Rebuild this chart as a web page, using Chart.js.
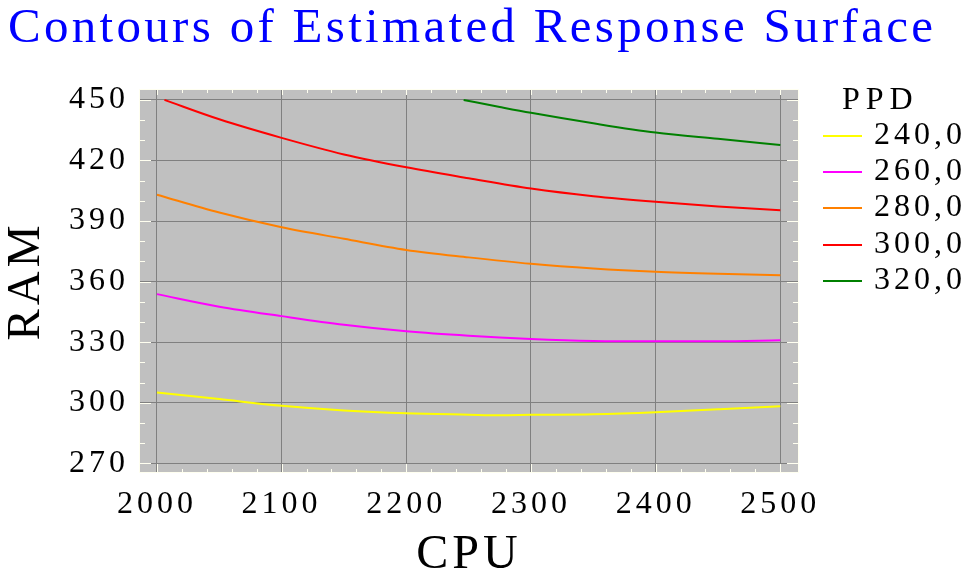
<!DOCTYPE html>
<html>
<head>
<meta charset="utf-8">
<title>Contours of Estimated Response Surface</title>
<script src="https://cdn.jsdelivr.net/npm/chart.js@4/dist/chart.umd.min.js"></script>
<style>
    html, body { margin: 0; padding: 0; background: #ffffff; }
    #wrap { width: 972px; height: 579px; position: relative; }
</style>
</head>
<body>
<div id="wrap"><canvas id="contourChart"></canvas></div>
<script>
// Chart text
const chartTitle = 'Contours of Estimated Response Surface';
const legendTitle = 'PPD';
const xTitle = 'CPU';
const yTitle = 'RAM';

// Axis ticks
const xTicks = [2000, 2100, 2200, 2300, 2400, 2500];
const yTicks = [270, 300, 330, 360, 390, 420, 450];

// Contour levels (legend labels)
const levels = ['240,0', '260,0', '280,0', '300,0', '320,0'];

// Contour lines (CPU -> RAM)
const cpu240 = [2000, 2050, 2100, 2150, 2200, 2250, 2275, 2300, 2350, 2400, 2450, 2500];
const ram240 = [305.1, 301.8, 298.5, 296.2, 294.8, 294.1, 293.8, 294.0, 294.3, 295.3, 296.8, 298.3];

const cpu260 = [2000, 2050, 2100, 2150, 2200, 2250, 2300, 2350, 2400, 2450, 2500];
const ram260 = [353.8, 347.6, 342.9, 338.6, 335.4, 333.2, 331.6, 330.6, 330.4, 330.4, 331.0];

const cpu280 = [2000, 2050, 2100, 2150, 2200, 2250, 2300, 2350, 2400, 2450, 2500];
const ram280 = [403.0, 394.2, 386.9, 381.2, 375.7, 372.0, 368.8, 366.5, 364.9, 363.9, 363.2];

const cpu300 = [2006, 2050, 2100, 2150, 2200, 2250, 2300, 2350, 2400, 2450, 2500];
const ram300 = [450.0, 440.4, 431.2, 423.0, 416.6, 411.2, 406.1, 402.3, 399.5, 397.2, 395.3];

const cpu320 = [2246, 2275, 2300, 2350, 2400, 2450, 2500];
const ram320 = [450.0, 446.5, 443.6, 438.4, 433.8, 430.7, 427.7];

const colors = ['#ffff00', '#ff00ff', '#ff8000', '#ff0000', '#008000'];

const serif = "'Liberation Serif', 'Times New Roman', serif";

function toPoints(xs, ys) {
    return xs.map((v, i) => ({ x: v, y: ys[i] }));
}

const series = [
    toPoints(cpu240, ram240),
    toPoints(cpu260, ram260),
    toPoints(cpu280, ram280),
    toPoints(cpu300, ram300),
    toPoints(cpu320, ram320)
];

// Gray plot area, edge ticks, title and legend
const extrasPlugin = {
    id: 'extras',
    beforeDraw(chart) {
        const { ctx, chartArea: a } = chart;
        ctx.save();
        ctx.fillStyle = '#c0c0c0';
        ctx.fillRect(a.left, a.top, a.right - a.left, a.bottom - a.top);
        ctx.restore();
        ctx.letterSpacing = '4px';
    },
    afterDatasetsDraw(chart) {
        const { ctx, chartArea: a, scales } = chart;
        ctx.save();
        ctx.strokeStyle = '#fffff0';
        ctx.lineWidth = 1;
        ctx.beginPath();
        for (let v = yTicks[0]; v <= yTicks[yTicks.length - 1]; v += 10) {
            const py = Math.round(scales.y.getPixelForValue(v)) + 0.5;
            const len = yTicks.includes(v) ? 12 : 6;
            ctx.moveTo(a.left, py); ctx.lineTo(a.left + len, py);
            ctx.moveTo(a.right, py); ctx.lineTo(a.right - len, py);
        }
        for (let v = xTicks[0]; v <= xTicks[xTicks.length - 1]; v += 20) {
            const px = Math.round(scales.x.getPixelForValue(v)) + 0.5;
            const major = xTicks.includes(v);
            ctx.moveTo(px, a.bottom); ctx.lineTo(px, a.bottom - (major ? 9 : 4));
            ctx.moveTo(px, a.top); ctx.lineTo(px, a.top + (major ? 6 : 4));
        }
        ctx.stroke();
        ctx.strokeRect(a.left + 0.5, a.top + 0.5, a.right - a.left - 1, a.bottom - a.top - 1);
        ctx.restore();
    },
    afterDraw(chart) {
        const { ctx, chartArea: a } = chart;
        ctx.save();
        // title
        ctx.letterSpacing = '3.3px';
        ctx.font = '49px ' + serif;
        ctx.fillStyle = '#0000ff';
        ctx.textAlign = 'left';
        ctx.textBaseline = 'alphabetic';
        ctx.fillText(chartTitle, 8, 42);

        // legend
        ctx.fillStyle = '#000000';
        ctx.font = '32px ' + serif;
        ctx.letterSpacing = '6px';
        ctx.fillText(legendTitle, a.right + 43, a.top + 20);
        ctx.letterSpacing = '4px';
        ctx.textBaseline = 'middle';
        chart.data.datasets.forEach((ds, i) => {
            const ry = Math.round(a.top + 46.7 + i * 36.3);
            ctx.strokeStyle = ds.borderColor;
            ctx.lineWidth = 2;
            ctx.beginPath();
            ctx.moveTo(a.right + 24, ry);
            ctx.lineTo(a.right + 63, ry);
            ctx.stroke();
            ctx.fillText(ds.label, a.right + 75, ry);
        });
        ctx.restore();
    }
};

const ctx = document.getElementById('contourChart').getContext('2d');

const chart = new Chart(ctx, {
    type: 'line',
    data: {
        datasets: levels.map((label, i) => ({
            label: label,
            data: series[i],
            borderColor: colors[i],
            backgroundColor: colors[i],
            borderWidth: 2,
            pointRadius: 0,
            cubicInterpolationMode: 'monotone',
            fill: false
        }))
    },
    options: {
        responsive: true,
        maintainAspectRatio: false,
        animation: false,
        layout: {
            padding: { left: 0, right: 173, top: 89, bottom: 0 }
        },
        plugins: {
            legend: { display: false },
            title: { display: false },
            tooltip: { enabled: false }
        },
        scales: {
            x: {
                type: 'linear',
                min: 1985.6,
                max: 2515,
                afterBuildTicks: (scale) => {
                    scale.ticks = xTicks.map(v => ({ value: v }));
                },
                afterFit: (scale) => {
                    scale.height = 106;
                },
                ticks: {
                    autoSkip: false,
                    maxRotation: 0,
                    minRotation: 0,
                    padding: 12,
                    color: '#000000',
                    font: { family: serif, size: 32 },
                    callback: (v) => String(v)
                },
                grid: {
                    color: '#808080',
                    lineWidth: 1,
                    drawTicks: false
                },
                border: { display: false },
                title: {
                    display: true,
                    text: xTitle,
                    color: '#000000',
                    font: { family: serif, size: 48, lineHeight: 1 },
                    padding: { top: 0, bottom: 0 }
                }
            },
            y: {
                type: 'linear',
                min: 265.2,
                max: 455.4,
                afterBuildTicks: (scale) => {
                    scale.ticks = yTicks.map(v => ({ value: v }));
                },
                afterFit: (scale) => {
                    scale.width = 139;
                },
                ticks: {
                    autoSkip: false,
                    padding: 10,
                    color: '#000000',
                    font: { family: serif, size: 32 },
                    callback: (v) => String(v)
                },
                grid: {
                    color: '#808080',
                    lineWidth: 1,
                    drawTicks: false
                },
                border: { display: false },
                title: {
                    display: true,
                    text: yTitle,
                    color: '#000000',
                    font: { family: serif, size: 47, lineHeight: 1 },
                    padding: { top: 3, bottom: 0 }
                }
            }
        }
    },
    plugins: [extrasPlugin]
});
</script>
</body>
</html>
